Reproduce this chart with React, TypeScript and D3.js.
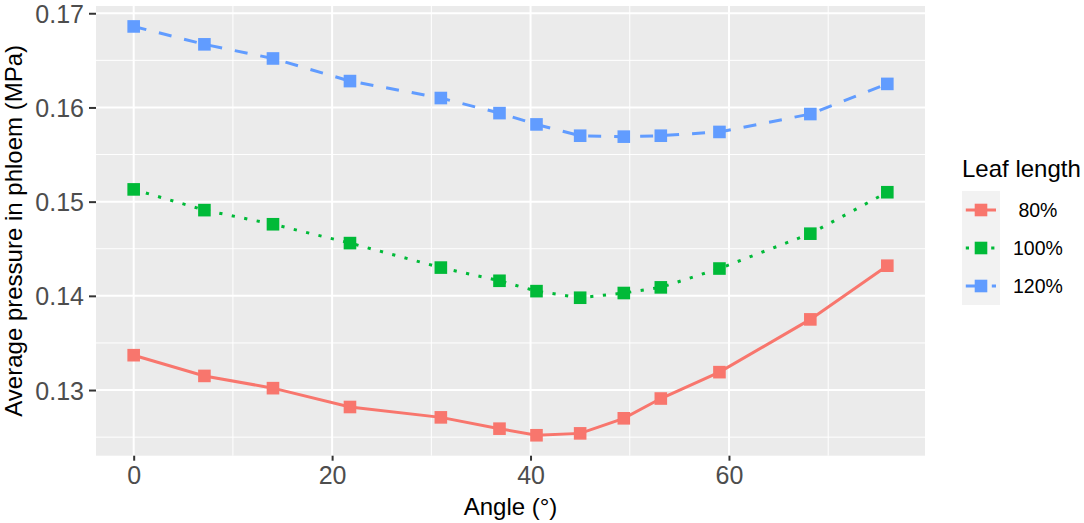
import React, { useEffect, useRef } from "react";
import * as d3 from "d3";

// leaf angle in degrees (x) and average phloem pressure in MPa (y)
const angles = [0, 7.13, 14.04, 21.8, 30.96, 36.87, 40.6, 45, 49.4, 53.13, 59.04, 68.2, 75.96];
const leaf80 = [0.1337, 0.1315, 0.1302, 0.1282, 0.1271, 0.1259, 0.1252, 0.1254, 0.1270, 0.1291, 0.1319, 0.1375, 0.1432];
const leaf100 = [0.1513, 0.1491, 0.1476, 0.1456, 0.1430, 0.1416, 0.1405, 0.1398, 0.1403, 0.1409, 0.1429, 0.1466, 0.1510];
const leaf120 = [0.1686, 0.1667, 0.1652, 0.1628, 0.1610, 0.1594, 0.1582, 0.1570, 0.1569, 0.1570, 0.1574, 0.1593, 0.1625];
const seriesNames = [" 80%", "100%", "120%"];
const xTicks = [0, 20, 40, 60];
const yTicks = [0.13, 0.14, 0.15, 0.16, 0.17];

interface ISeries {
  name: string
  values: number[]
  color: string
  dash: string | null
}

const series: ISeries[] = [
  { name: seriesNames[0], values: leaf80, color: "#F8766D", dash: null },
  { name: seriesNames[1], values: leaf100, color: "#00BA38", dash: "3.2,9.5" },
  { name: seriesNames[2], values: leaf120, color: "#619CFF", dash: "13,13" },
];

const FONT = "'Liberation Sans', Arial, Helvetica, sans-serif";

const App: React.FC = (): JSX.Element => {
  const ref = useRef<SVGSVGElement>(null);
  useEffect(() => {
    const W = 1084, H = 523;
    const panel = { left: 96, right: 925, top: 6, bottom: 455.7 };

    const svg = d3.select(ref.current);
    svg.selectAll("*").remove();
    svg.attr("width", W).attr("height", H).attr("viewBox", `0 0 ${W} ${H}`);

    // ggplot-like 5% expansion
    const xExt = d3.extent(angles) as [number, number];
    const xPad = (xExt[1] - xExt[0]) * 0.05;
    const allY = [...leaf80, ...leaf100, ...leaf120];
    const yExt = d3.extent(allY) as [number, number];
    const yPad = (yExt[1] - yExt[0]) * 0.05;

    const x = d3.scaleLinear()
      .domain([xExt[0] - xPad, xExt[1] + xPad])
      .range([panel.left, panel.right]);
    const y = d3.scaleLinear()
      .domain([yExt[0] - yPad, yExt[1] + yPad])
      .range([panel.bottom, panel.top]);

    svg.append("rect")
      .attr("width", W).attr("height", H).attr("fill", "#FFFFFF");

    svg.append("rect")
      .attr("x", panel.left).attr("y", panel.top)
      .attr("width", panel.right - panel.left)
      .attr("height", panel.bottom - panel.top)
      .attr("fill", "#EBEBEB");

    const xMinor = [10, 30, 50, 70].filter(v => v > x.domain()[0] && v < x.domain()[1]);
    const yMinor = [0.125, 0.135, 0.145, 0.155, 0.165].filter(v => v > y.domain()[0] && v < y.domain()[1]);

    const grid = svg.append("g");
    grid.selectAll(".ymin").data(yMinor).enter().append("line")
      .attr("x1", panel.left).attr("x2", panel.right)
      .attr("y1", d => y(d)).attr("y2", d => y(d))
      .attr("stroke", "#FFFFFF").attr("stroke-width", 1);
    grid.selectAll(".xmin").data(xMinor).enter().append("line")
      .attr("y1", panel.top).attr("y2", panel.bottom)
      .attr("x1", d => x(d)).attr("x2", d => x(d))
      .attr("stroke", "#FFFFFF").attr("stroke-width", 1);
    grid.selectAll(".ymaj").data(yTicks).enter().append("line")
      .attr("x1", panel.left).attr("x2", panel.right)
      .attr("y1", d => y(d)).attr("y2", d => y(d))
      .attr("stroke", "#FFFFFF").attr("stroke-width", 2);
    grid.selectAll(".xmaj").data(xTicks).enter().append("line")
      .attr("y1", panel.top).attr("y2", panel.bottom)
      .attr("x1", d => x(d)).attr("x2", d => x(d))
      .attr("stroke", "#FFFFFF").attr("stroke-width", 2);

    const line = d3.line<number>()
      .x((d, i) => x(angles[i]))
      .y(d => y(d));

    series.forEach(s => {
      svg.append("path")
        .datum(s.values)
        .attr("d", line)
        .attr("fill", "none")
        .attr("stroke", s.color)
        .attr("stroke-width", 3)
        .attr("stroke-dasharray", s.dash)
        .attr("stroke-linecap", "butt");
    });

    const ms = 12.6;
    series.forEach(s => {
      svg.append("g").selectAll("rect")
        .data(s.values)
        .enter().append("rect")
        .attr("x", (d, i) => x(angles[i]) - ms / 2)
        .attr("y", d => y(d) - ms / 2)
        .attr("width", ms).attr("height", ms)
        .attr("fill", s.color);
    });

    // axes
    const yAxis = svg.append("g")
      .attr("transform", `translate(${panel.left},0)`)
      .call(d3.axisLeft(y).tickValues(yTicks).tickFormat(d3.format(".2f")).tickSize(7).tickPadding(5));
    yAxis.select(".domain").remove();
    yAxis.selectAll(".tick line").attr("stroke", "#333333").attr("stroke-width", 2);
    yAxis.selectAll(".tick text")
      .attr("fill", "#4D4D4D")
      .attr("dy", "0.36em")
      .style("font-family", FONT)
      .style("font-size", "25px");

    const xAxis = svg.append("g")
      .attr("transform", `translate(0,${panel.bottom})`)
      .call(d3.axisBottom(x).tickValues(xTicks).tickFormat(d3.format("d")).tickSize(5).tickPadding(6));
    xAxis.select(".domain").remove();
    xAxis.selectAll(".tick line").attr("stroke", "#333333").attr("stroke-width", 2);
    xAxis.selectAll(".tick text")
      .attr("fill", "#4D4D4D")
      .attr("dy", "0.71em")
      .style("font-family", FONT)
      .style("font-size", "25px");

    svg.append("text")
      .attr("x", (panel.left + panel.right) / 2)
      .attr("y", 515)
      .attr("text-anchor", "middle")
      .style("font-family", FONT)
      .style("font-size", "24px")
      .attr("fill", "#000000")
      .text("Angle (°)");

    svg.append("text")
      .attr("transform", `translate(22,${(panel.top + panel.bottom) / 2}) rotate(-90)`)
      .attr("text-anchor", "middle")
      .style("font-family", FONT)
      .style("font-size", "24px")
      .attr("fill", "#000000")
      .text("Average pressure in phloem (MPa)");

    // legend
    const lg = svg.append("g");
    lg.append("text")
      .attr("x", 962).attr("y", 177)
      .style("font-family", FONT)
      .style("font-size", "24px")
      .attr("fill", "#000000")
      .text("Leaf length");

    const keyX = 962, keyW = 38, keyTop = 191, keyH = 38;
    const keys = lg.selectAll(".key")
      .data(series)
      .enter().append("g")
      .attr("transform", (d, i) => `translate(${keyX},${keyTop + i * keyH})`);
    keys.append("rect")
      .attr("width", keyW).attr("height", keyH)
      .attr("fill", "#F2F2F2");
    keys.append("line")
      .attr("x1", 3.8).attr("x2", keyW - 4)
      .attr("y1", keyH / 2).attr("y2", keyH / 2)
      .attr("stroke", d => d.color)
      .attr("stroke-width", 3)
      .attr("stroke-dasharray", d => d.dash);
    keys.append("rect")
      .attr("x", keyW / 2 - ms / 2).attr("y", keyH / 2 - ms / 2)
      .attr("width", ms).attr("height", ms)
      .attr("fill", d => d.color);
    keys.append("text")
      .attr("x", 51).attr("y", keyH / 2 + 7)
      .attr("xml:space", "preserve")
      .style("white-space", "pre")
      .style("font-family", FONT)
      .style("font-size", "19.5px")
      .attr("fill", "#000000")
      .text(d => d.name);
  }, []);

  return (
    <div style={{ position: "absolute", left: 0, top: 0 }}>
      <svg ref={ref} style={{ display: "block" }}></svg>
    </div>
  );
};

export default App;
